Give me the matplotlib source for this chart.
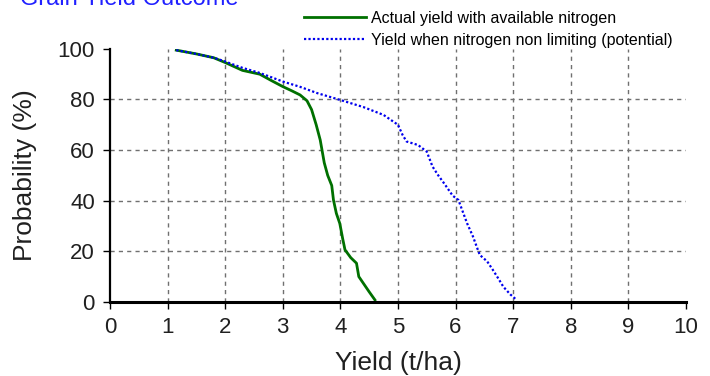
import matplotlib.pyplot as plt
import numpy as np

plt.rcParams['font.family'] = ['Liberation Sans', 'DejaVu Sans']

# cumulative exceedance probability curves (yield t/ha, probability %)
actual_yield = [1.15, 1.5, 1.8, 2.0, 2.3, 2.6, 2.8, 3.0, 3.15, 3.3, 3.42, 3.5, 3.58, 3.65,
                3.72, 3.78, 3.85, 3.88, 3.93, 3.99, 4.04, 4.08, 4.18, 4.28, 4.32, 4.38, 4.5, 4.6]
actual_prob = [99.5, 98, 96.5, 94.6, 91.5, 90, 87.5, 85.1, 83.5, 81.8, 79.5, 76, 70, 64,
               55, 50, 46, 40.3, 35, 31, 25, 20.6, 17.5, 15.3, 10, 8, 4, 0.8]

potential_yield = [1.15, 1.5, 1.8, 2.0, 2.3, 2.6, 3.0, 3.3, 3.6, 4.0, 4.4, 4.75, 5.0, 5.08,
                   5.15, 5.35, 5.5, 5.6, 5.7, 5.8, 5.95, 6.05, 6.12, 6.2, 6.3, 6.42, 6.55,
                   6.65, 6.75, 6.83, 6.95, 7.06]
potential_prob = [99.5, 98, 96.5, 95, 92.5, 90.5, 87.1, 85, 82.5, 79.8, 77, 73.9, 70, 66,
                  63.4, 62, 59.4, 53.5, 50, 46.9, 42, 40.3, 36, 31.1, 26, 18.6, 16,
                  12.6, 9, 6, 3, 0.8]

x_ticks = np.arange(0, 11, 1)
y_ticks = np.arange(0, 101, 20)

fig = plt.figure(figsize=(7.1, 3.76), dpi=100)
ax = fig.add_axes([0.155, 0.197, 0.811, 0.673])

# inner dashed grid
for xv in x_ticks[1:-1]:
    ax.axvline(xv, color='#707070', lw=1, ls=(0, (3, 3)), zorder=1)
for yv in y_ticks[1:-1]:
    ax.axhline(yv, color='#707070', lw=1, ls=(0, (3, 3)), zorder=1)

ax.plot(actual_yield, actual_prob, color='#007000', lw=2,
        label='Actual yield with available nitrogen', zorder=3)
ax.plot(potential_yield, potential_prob, color='#0000ee', lw=1.6, ls=(0, (1, 1)),
        label='Yield when nitrogen non limiting (potential)', zorder=3)

ax.set_xlim(0, 10)
ax.set_ylim(0, 100)
ax.set_xticks(x_ticks)
ax.set_yticks(y_ticks)
ax.tick_params(labelsize=16, length=5, width=1, direction='out', pad=6,
               labelcolor='#202020')
ax.spines['top'].set_visible(False)
ax.spines['right'].set_visible(False)
ax.spines['bottom'].set_linewidth(2.2)
ax.spines['left'].set_linewidth(1.6)
ax.spines['left'].set_zorder(4)
ax.spines['bottom'].set_zorder(4)

ax.set_xlabel('Yield (t/ha)', fontsize=19, labelpad=9, color='#202020')
ax.set_ylabel('Probability (%)', fontsize=19, labelpad=15, color='#202020')

ax.legend(loc='upper left', bbox_to_anchor=(0.428, 0.972), bbox_transform=fig.transFigure,
          frameon=False, fontsize=11.5, handlelength=3.9, handletextpad=0.3,
          labelspacing=0.45, borderaxespad=0, borderpad=0)

fig.text(0.028, 0.987, 'Grain Yield Outcome', color='#2020ff', fontsize=17,
         va='baseline', ha='left')

fig.savefig('out.png', dpi=100)
